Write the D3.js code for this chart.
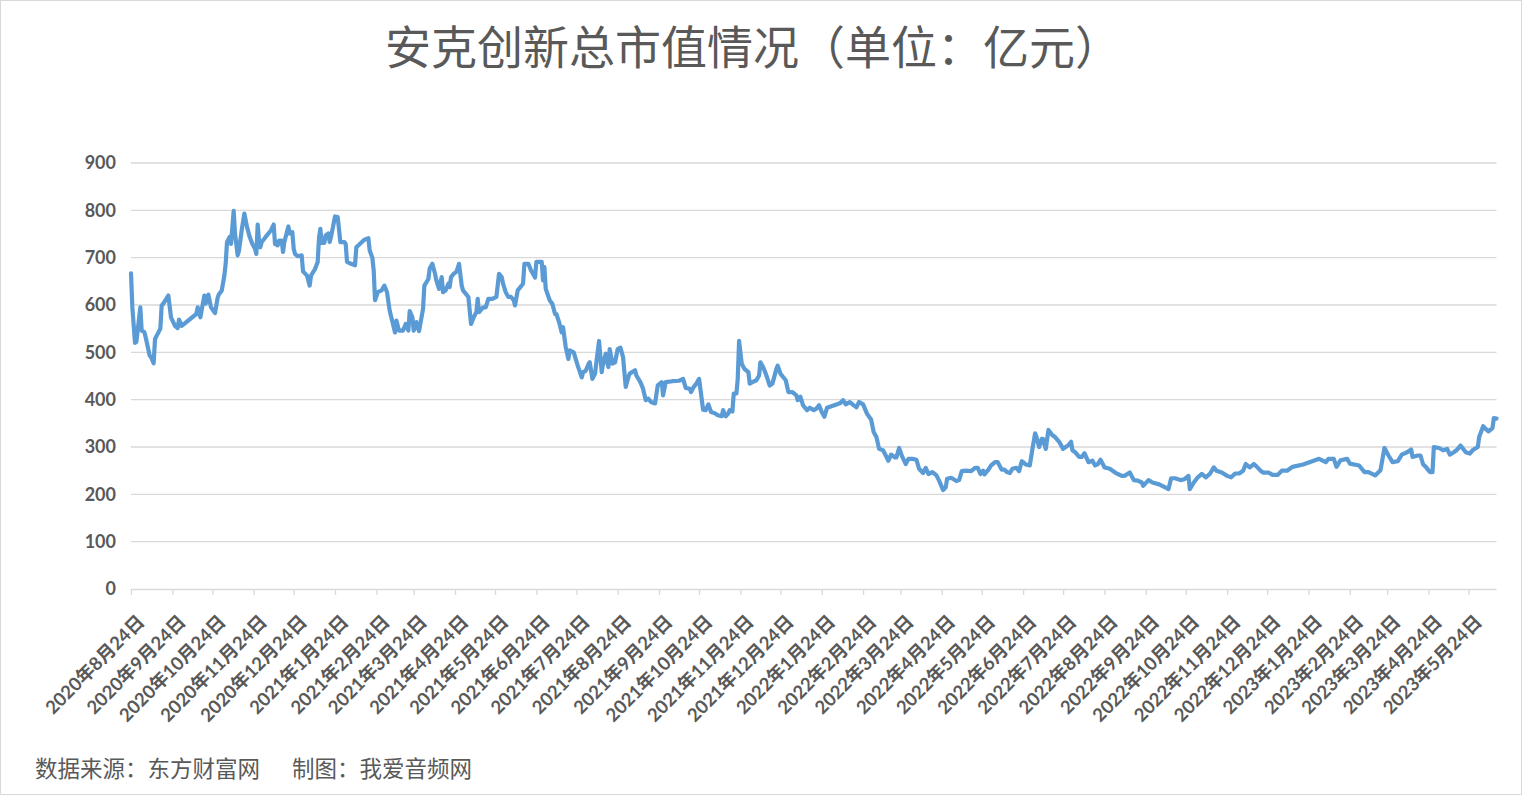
<!DOCTYPE html>
<html>
<head>
<meta charset="utf-8">
<script src="https://cdn.jsdelivr.net/npm/d3@7"></script>
<style>
    body { margin: 0; background: #fff; }
    .grid line { stroke: #d9d9d9; stroke-width: 1.3; }
    .axis-label { fill: #595959; font-family: Lato, "Noto Sans CJK SC", sans-serif; font-weight: bold; }
    .title { fill: #595959; font-family: "Noto Sans CJK SC", sans-serif; }
    .source { fill: #595959; font-family: "Noto Sans CJK SC", sans-serif; }
</style>
</head>
<body>
<svg id="chart" width="1523" height="796"></svg>
<script>
// trading dates and total market value (100 million yuan)
const dates = [
    "2020-08-24","2020-08-25","2020-08-27","2020-08-28","2020-08-31","2020-09-01","2020-09-03","2020-09-04","2020-09-07","2020-09-08",
    "2020-09-10","2020-09-11","2020-09-13","2020-09-15","2020-09-16","2020-09-17","2020-09-21","2020-09-23","2020-09-26","2020-09-28",
    "2020-09-29","2020-10-01","2020-10-12","2020-10-13","2020-10-15","2020-10-18","2020-10-19","2020-10-21","2020-10-23","2020-10-26",
    "2020-10-28","2020-10-29","2020-10-31","2020-11-02","2020-11-03","2020-11-04","2020-11-06","2020-11-07","2020-11-09","2020-11-10",
    "2020-11-12","2020-11-13","2020-11-15","2020-11-17","2020-11-19","2020-11-21","2020-11-23","2020-11-25","2020-11-26","2020-11-27",
    "2020-11-28","2020-11-29","2020-11-30","2020-12-02","2020-12-03","2020-12-07","2020-12-09","2020-12-10","2020-12-12","2020-12-13",
    "2020-12-15","2020-12-16","2020-12-17","2020-12-20","2020-12-21","2020-12-23","2020-12-24","2020-12-25","2020-12-27","2020-12-30",
    "2020-12-31","2021-01-03","2021-01-05","2021-01-06","2021-01-09","2021-01-11","2021-01-12","2021-01-13","2021-01-14","2021-01-16",
    "2021-01-17","2021-01-19","2021-01-20","2021-01-21","2021-01-24","2021-01-26","2021-01-28","2021-01-31","2021-02-01","2021-02-02",
    "2021-02-05","2021-02-08","2021-02-09","2021-02-15","2021-02-18","2021-02-19","2021-02-21","2021-02-22","2021-02-23","2021-02-25",
    "2021-02-28","2021-03-02","2021-03-04","2021-03-06","2021-03-10","2021-03-11","2021-03-13","2021-03-16","2021-03-18","2021-03-20",
    "2021-03-21","2021-03-23","2021-03-24","2021-03-26","2021-03-28","2021-03-31","2021-04-01","2021-04-04","2021-04-05","2021-04-07",
    "2021-04-09","2021-04-10","2021-04-12","2021-04-14","2021-04-15","2021-04-17","2021-04-19","2021-04-20","2021-04-21","2021-04-23",
    "2021-04-25","2021-04-27","2021-04-29","2021-04-30","2021-05-02","2021-05-04","2021-05-06","2021-05-08","2021-05-10","2021-05-11",
    "2021-05-12","2021-05-15","2021-05-17","2021-05-19","2021-05-22","2021-05-25","2021-05-27","2021-05-29","2021-05-30","2021-06-01",
    "2021-06-03","2021-06-05","2021-06-07","2021-06-08","2021-06-10","2021-06-14","2021-06-15","2021-06-18","2021-06-20","2021-06-23",
    "2021-06-24","2021-06-28","2021-06-29","2021-06-30","2021-07-01","2021-07-04","2021-07-06","2021-07-08","2021-07-09","2021-07-11",
    "2021-07-13","2021-07-14","2021-07-16","2021-07-18","2021-07-19","2021-07-22","2021-07-25","2021-07-28","2021-07-29","2021-07-31",
    "2021-08-02","2021-08-03","2021-08-05","2021-08-07","2021-08-08","2021-08-10","2021-08-12","2021-08-13","2021-08-15","2021-08-16",
    "2021-08-17","2021-08-18","2021-08-20","2021-08-22","2021-08-24","2021-08-26","2021-08-28","2021-08-30","2021-09-01","2021-09-02",
    "2021-09-06","2021-09-07","2021-09-10","2021-09-12","2021-09-14","2021-09-16","2021-09-18","2021-09-21","2021-09-23","2021-09-26",
    "2021-09-27","2021-09-29","2021-10-04","2021-10-09","2021-10-12","2021-10-14","2021-10-17","2021-10-18","2021-10-20","2021-10-22",
    "2021-10-24","2021-10-27","2021-10-29","2021-10-31","2021-11-02","2021-11-05","2021-11-07","2021-11-10","2021-11-11","2021-11-13",
    "2021-11-15","2021-11-16","2021-11-18","2021-11-19","2021-11-21","2021-11-22","2021-11-23","2021-11-25","2021-11-27","2021-11-30",
    "2021-12-01","2021-12-03","2021-12-06","2021-12-08","2021-12-09","2021-12-11","2021-12-13","2021-12-16","2021-12-18","2021-12-21",
    "2021-12-22","2021-12-24","2021-12-26","2021-12-28","2021-12-30","2022-01-02","2022-01-05","2022-01-06","2022-01-08","2022-01-10",
    "2022-01-13","2022-01-15","2022-01-18","2022-01-20","2022-01-22","2022-01-24","2022-01-26","2022-01-28","2022-02-04","2022-02-07",
    "2022-02-09","2022-02-11","2022-02-14","2022-02-17","2022-02-19","2022-02-21","2022-02-24","2022-02-27","2022-03-02","2022-03-04",
    "2022-03-06","2022-03-08","2022-03-11","2022-03-13","2022-03-15","2022-03-17","2022-03-20","2022-03-21","2022-03-23","2022-03-25",
    "2022-03-28","2022-03-30","2022-04-02","2022-04-05","2022-04-07","2022-04-10","2022-04-12","2022-04-14","2022-04-17","2022-04-20",
    "2022-04-22","2022-04-25","2022-04-27","2022-04-28","2022-05-01","2022-05-05","2022-05-07","2022-05-09","2022-05-12","2022-05-16",
    "2022-05-19","2022-05-21","2022-05-23","2022-05-25","2022-05-26","2022-05-29","2022-05-31","2022-06-03","2022-06-05","2022-06-08",
    "2022-06-10","2022-06-12","2022-06-14","2022-06-16","2022-06-19","2022-06-21","2022-06-23","2022-06-24","2022-06-26","2022-06-29",
    "2022-07-01","2022-07-03","2022-07-04","2022-07-06","2022-07-08","2022-07-09","2022-07-11","2022-07-13","2022-07-16","2022-07-18",
    "2022-07-21","2022-07-24","2022-07-26","2022-07-28","2022-07-30","2022-07-31","2022-08-02","2022-08-05","2022-08-07","2022-08-09",
    "2022-08-12","2022-08-15","2022-08-17","2022-08-19","2022-08-21","2022-08-24","2022-08-28","2022-09-01","2022-09-03","2022-09-06",
    "2022-09-08","2022-09-12","2022-09-15","2022-09-18","2022-09-21","2022-09-22","2022-09-26","2022-09-29","2022-10-04","2022-10-09",
    "2022-10-11","2022-10-13","2022-10-16","2022-10-20","2022-10-23","2022-10-26","2022-10-27","2022-10-30","2022-11-02","2022-11-05",
    "2022-11-08","2022-11-11","2022-11-14","2022-11-16","2022-11-20","2022-11-24","2022-11-27","2022-11-30","2022-12-03","2022-12-06",
    "2022-12-08","2022-12-11","2022-12-14","2022-12-16","2022-12-19","2022-12-21","2022-12-25","2022-12-28","2023-01-01","2023-01-04",
    "2023-01-08","2023-01-10","2023-01-12","2023-01-20","2023-02-01","2023-02-06","2023-02-08","2023-02-12","2023-02-14","2023-02-17",
    "2023-02-22","2023-02-24","2023-03-03","2023-03-07","2023-03-10","2023-03-15","2023-03-19","2023-03-22","2023-03-25","2023-03-28",
    "2023-04-01","2023-04-04","2023-04-08","2023-04-11","2023-04-12","2023-04-16","2023-04-18","2023-04-20","2023-04-22","2023-04-25",
    "2023-04-27","2023-04-28","2023-05-02","2023-05-05","2023-05-08","2023-05-10","2023-05-13","2023-05-15","2023-05-18","2023-05-20",
    "2023-05-22","2023-05-25","2023-05-27","2023-05-31","2023-06-01","2023-06-04","2023-06-06","2023-06-08","2023-06-11","2023-06-12",
    "2023-06-14"
];
const values = [
    667,596,520,522,595,546,543,532,493,490,
    477,528,539,550,599,602,620,574,556,551,
    569,556,581,595,574,620,603,622,595,583,
    616,623,630,662,687,733,744,729,799,751,
    705,715,758,793,765,744,729,719,708,770,
    736,722,733,740,744,758,770,729,726,736,
    736,712,733,766,751,754,719,708,703,705,
    671,662,641,662,676,691,742,761,731,731,
    747,751,733,744,787,786,733,733,729,691,
    687,684,722,738,741,715,700,673,610,627,
    631,641,627,588,542,567,546,546,560,546,
    587,574,546,564,545,592,641,655,677,687,
    666,652,634,659,627,631,645,638,659,666,
    670,687,641,631,624,617,560,574,585,613,
    585,595,595,613,613,617,666,659,645,627,
    617,617,610,599,631,645,687,687,673,658,
    691,691,652,680,634,610,602,581,581,564,
    542,553,511,486,504,500,472,447,458,461,
    475,479,444,455,479,524,458,476,497,479,
    469,507,476,479,507,510,490,427,448,455,
    462,451,437,423,399,402,395,392,430,437,
    409,437,439,440,444,425,423,416,427,434,
    444,379,378,390,374,371,367,365,378,365,
    371,378,375,413,413,444,524,476,465,458,
    434,437,441,451,479,469,455,430,434,465,
    472,455,448,441,416,416,409,399,406,388,
    378,383,378,381,388,374,364,383,390,393,
    399,390,395,388,384,395,390,370,358,331,
    321,296,293,282,271,284,278,278,298,282,
    264,275,275,273,254,245,256,243,247,240,
    229,209,215,233,235,228,230,249,250,249,
    256,256,243,250,242,252,261,268,268,252,
    252,247,245,254,256,249,270,268,263,261,
    296,329,321,300,317,317,296,336,325,321,
    311,296,300,304,311,293,289,279,279,287,
    268,271,261,264,273,257,254,246,243,239,
    239,246,230,229,225,218,230,225,221,214,
    211,234,234,230,232,239,211,225,236,243,
    236,243,257,250,246,239,236,244,244,250,
    264,257,264,259,250,246,246,241,241,250,
    250,254,258,263,275,268,275,275,258,272,
    275,265,261,247,247,240,251,298,282,268,
    270,284,289,295,279,282,282,263,258,247,
    247,300,298,293,296,284,289,293,303,296,
    289,286,293,300,321,344,338,333,340,361,
    360
];
const yTicks = [0, 100, 200, 300, 400, 500, 600, 700, 800, 900];

const titleText = "安克创新总市值情况（单位：亿元）";
const sourceText = "数据来源：东方财富网";
const makerText = "制图：我爱音频网";

const parseDate = d3.timeParse("%Y-%m-%d");
const series = dates.map((d, i) => ({ date: parseDate(d), value: values[i] }));

const svg = d3.select("#chart");

// outer frame
svg.append("rect")
    .attr("x", 0.5).attr("y", 0.5)
    .attr("width", 1521).attr("height", 794)
    .attr("fill", "#fff")
    .attr("stroke", "#d9d9d9");

const plot = { left: 131, right: 1496.5, top: 163, bottom: 589 };

let x = d3.scaleTime()
    .domain(d3.extent(series, d => d.date))
    .range([plot.left, plot.right]);

let y = d3.scaleLinear()
    .domain([0, 900])
    .range([plot.bottom, plot.top]);

// horizontal gridlines
svg.append("g")
    .attr("class", "grid")
    .selectAll("line")
    .data(yTicks.filter(t => t > 0))
    .enter()
    .append("line")
    .attr("x1", plot.left).attr("x2", plot.right)
    .attr("y1", d => y(d)).attr("y2", d => y(d));

// y axis labels
svg.append("g")
    .selectAll("text")
    .data(yTicks)
    .enter()
    .append("text")
    .attr("class", "axis-label")
    .attr("x", 116)
    .attr("y", d => y(d))
    .attr("dy", "0.35em")
    .attr("text-anchor", "end")
    .style("font-size", "18px")
    .text(d => d);

// monthly ticks on the 24th
let monthTicks = d3.timeMonth.range(new Date(2020, 7, 1), new Date(2023, 5, 1))
    .map(m => new Date(m.getFullYear(), m.getMonth(), 24));

let xAxis = d3.axisBottom(x)
    .tickValues(monthTicks)
    .tickSize(6)
    .tickFormat(d => d.getFullYear() + "年" + (d.getMonth() + 1) + "月" + d.getDate() + "日");

let gx = svg.append("g")
    .attr("transform", `translate(0,${plot.bottom})`)
    .call(xAxis);
gx.select(".domain").attr("stroke", "#d9d9d9").attr("stroke-width", 1.3)
    .attr("d", `M${plot.left},0.5H${plot.right}`);
gx.selectAll(".tick line").attr("stroke", "#d9d9d9").attr("stroke-width", 1.3);
gx.selectAll(".tick text")
    .attr("class", "axis-label")
    .style("font-size", "18.5px")
    .attr("text-anchor", "end")
    .attr("x", 0).attr("y", 0).attr("dy", 0)
    .attr("transform", "translate(14,34) rotate(-45)");

// the line itself
let line = d3.line()
    .x(d => x(d.date))
    .y(d => y(d.value));

svg.append("path")
    .datum(series)
    .attr("fill", "none")
    .attr("stroke", "#5b9bd5")
    .attr("stroke-width", 4.2)
    .attr("stroke-linejoin", "round")
    .attr("stroke-linecap", "round")
    .attr("d", line);

// title and footer
svg.append("text")
    .attr("class", "title")
    .attr("x", 753).attr("y", 64)
    .attr("text-anchor", "middle")
    .style("font-size", "46px")
    .text(titleText);

svg.append("text")
    .attr("class", "source")
    .attr("x", 35).attr("y", 777)
    .style("font-size", "22.5px")
    .text(sourceText);

svg.append("text")
    .attr("class", "source")
    .attr("x", 292).attr("y", 777)
    .style("font-size", "22.5px")
    .text(makerText);
</script>
</body>
</html>
